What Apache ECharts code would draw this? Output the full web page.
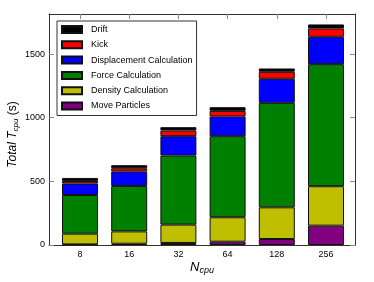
<!DOCTYPE html>
<html>
<head>
<meta charset="utf-8">
<script src="https://cdn.jsdelivr.net/npm/echarts@6/dist/echarts.min.js"></script>
<style>
html,body{margin:0;padding:0;background:#fff;}
#chart{width:374px;height:282px;}
</style>
</head>
<body>
<div id="chart"></div>
<script>
const categories = ['8', '16', '32', '64', '128', '256'];
const moveParticles = [5, 10, 16, 26, 47, 152];
const densityCalc = [84, 97, 144, 192, 249, 310];
const forceCalc = [304, 357, 543, 637, 821, 959];
const displacementCalc = [90, 113, 152, 155, 189, 215];
const kick = [20, 26, 45, 44, 55, 66];
const drift = [24, 24, 26, 29, 26, 31];
const yTicks = [0, 500, 1000, 1500];

const FONT = '"Liberation Sans", Arial, sans-serif';
const seriesDefs = [
  ['Move Particles', moveParticles, '#800080'],
  ['Density Calculation', densityCalc, '#bfbf00'],
  ['Force Calculation', forceCalc, '#008000'],
  ['Displacement Calculation', displacementCalc, '#0000ff'],
  ['Kick', kick, '#ff0000'],
  ['Drift', drift, '#000000']
];
const xPos = categories.map((c, i) => i);
const Y_MAX = 1815;

const chart = echarts.init(document.getElementById('chart'), null, {renderer: 'canvas'});
const axisColor = '#333';
const tickStyle = {color: '#888', width: 1};
chart.setOption({
  animation: false,
  backgroundColor: '#fff',
  textStyle: {fontFamily: FONT},
  grid: [
    {left: 49, right: 19, top: 14, bottom: 37, containLabel: false, outerBoundsMode: 'none'},
    {left: 55.4, right: 23.4, top: 14, bottom: 37, containLabel: false, outerBoundsMode: 'none'}
  ],
  legend: {
    orient: 'vertical',
    left: 57, top: 21,
    data: ['Drift', 'Kick', 'Displacement Calculation', 'Force Calculation', 'Density Calculation', 'Move Particles'],
    itemWidth: 20, itemHeight: 7, itemGap: 4.3,
    icon: 'rect',
    padding: [3, 4, 4, 4],
    borderColor: '#333', borderWidth: 1, borderRadius: 0,
    backgroundColor: '#fff',
    textStyle: {fontFamily: FONT, fontSize: 9, color: '#000', padding: [0, 0, 0, 4], lineHeight: 11}
  },
  xAxis: [{
    gridIndex: 0, type: 'value', position: 'bottom', min: -0.63, max: 5.59,
    axisLine: {show: true, onZero: false, lineStyle: {color: axisColor, width: 1}},
    axisTick: {show: true, inside: true, length: 5, customValues: xPos, lineStyle: tickStyle},
    axisLabel: {show: true, customValues: xPos, formatter: v => categories[Math.round(v)], fontSize: 9, color: '#000', margin: 5, fontFamily: FONT},
    splitLine: {show: false},
    name: '{n|N}{s|cpu}', nameLocation: 'middle', nameGap: 14, nameMoveOverlap: false,
    nameTextStyle: {rich: {
      n: {fontStyle: 'italic', fontSize: 13, fontFamily: FONT, color: '#000', lineHeight: 16, verticalAlign: 'middle'},
      s: {fontStyle: 'italic', fontSize: 9, fontFamily: FONT, color: '#000', lineHeight: 10, verticalAlign: 'bottom'}
    }}
  }, {
    gridIndex: 0, type: 'value', position: 'top', min: -0.63, max: 5.59,
    axisLine: {show: true, onZero: false, lineStyle: {color: axisColor, width: 1}},
    axisTick: {show: true, inside: true, length: 5, customValues: xPos, lineStyle: tickStyle},
    axisLabel: {show: false}, splitLine: {show: false}
  }, {
    gridIndex: 1, type: 'category', data: categories, position: 'bottom',
    axisLine: {show: false}, axisTick: {show: false}, axisLabel: {show: false}, splitLine: {show: false}
  }],
  yAxis: [{
    gridIndex: 0, type: 'value', position: 'left', min: 0, max: Y_MAX, interval: 500,
    axisLine: {show: true, onZero: false, lineStyle: {color: axisColor, width: 1}},
    axisTick: {show: true, inside: true, length: 5, customValues: yTicks, lineStyle: tickStyle},
    axisLabel: {show: true, customValues: yTicks, formatter: v => String(v), fontSize: 9, color: '#000', margin: 4, fontFamily: FONT},
    splitLine: {show: false},
    name: '{i|Total T}{s|cpu}{n| (s)}', nameLocation: 'middle', nameGap: 29, nameRotate: 90, nameMoveOverlap: false,
    nameTextStyle: {padding: [0, 10, 0, 0], rich: {
      i: {fontStyle: 'italic', fontSize: 12, fontFamily: FONT, color: '#000', lineHeight: 15, verticalAlign: 'middle'},
      s: {fontStyle: 'italic', fontSize: 8, fontFamily: FONT, color: '#000', lineHeight: 9, verticalAlign: 'bottom'},
      n: {fontSize: 12, fontFamily: FONT, color: '#000', lineHeight: 15, verticalAlign: 'middle'}
    }}
  }, {
    gridIndex: 0, type: 'value', position: 'right', min: 0, max: Y_MAX, interval: 500,
    axisLine: {show: true, onZero: false, lineStyle: {color: axisColor, width: 1}},
    axisTick: {show: true, inside: true, length: 5, customValues: yTicks, lineStyle: tickStyle},
    axisLabel: {show: false}, splitLine: {show: false}
  }, {
    gridIndex: 1, type: 'value', min: 0, max: Y_MAX,
    axisLine: {show: false}, axisTick: {show: false}, axisLabel: {show: false}, splitLine: {show: false}
  }],
  series: seriesDefs.map(([name, vals, color]) => ({
    name: name, type: 'bar', stack: 'total', xAxisIndex: 2, yAxisIndex: 2,
    barWidth: 36,
    data: vals,
    itemStyle: {color: color, borderColor: '#111', borderWidth: 1}
  }))
});
</script>
</body>
</html>
